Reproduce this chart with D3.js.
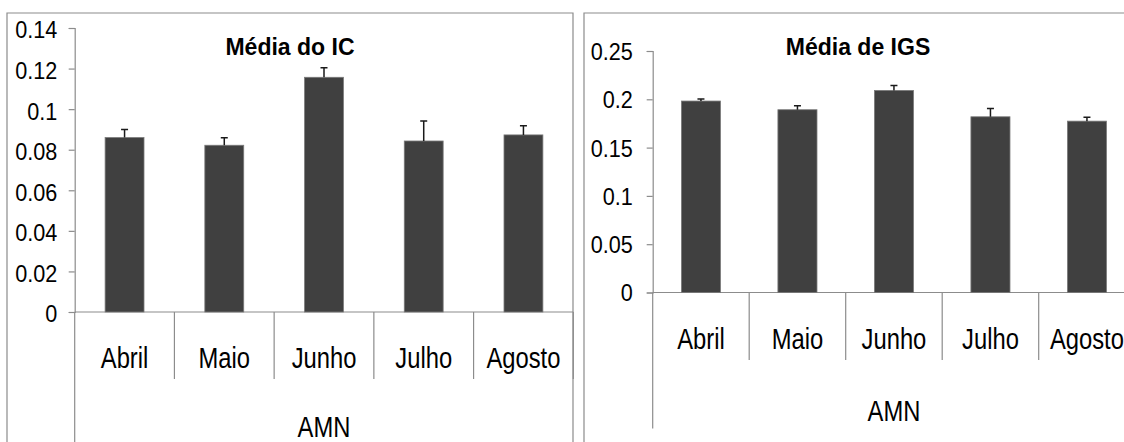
<!DOCTYPE html>
<html>
<head>
<meta charset="utf-8">
<script src="https://cdn.jsdelivr.net/npm/d3@7"></script>
<style>
  html, body { margin: 0; padding: 0; background: #fff; }
  svg { display: block; }
  .tick text { font-family: "Liberation Sans", Arial, sans-serif; font-size: 24px; fill: #000; }
  .cat { font-family: "Liberation Sans", Arial, sans-serif; font-size: 29px; fill: #000; }
  .title { font-family: "Liberation Sans", Arial, sans-serif; font-size: 24.5px; font-weight: bold; fill: #000; }
</style>
</head>
<body>
<svg id="chart" width="1124" height="442"></svg>
<script>
const categories = ["Abril", "Maio", "Junho", "Julho", "Agosto"];
const groupLabel = "AMN";

const icTitle = "Média do IC";
const icMeans = [0.0860, 0.0822, 0.1157, 0.0843, 0.0873];
const icErrors = [0.0040, 0.0037, 0.0047, 0.0099, 0.0045];
const icTicks = [0, 0.02, 0.04, 0.06, 0.08, 0.1, 0.12, 0.14];

const igsTitle = "Média de IGS";
const igsMeans = [0.1982, 0.1892, 0.2092, 0.1819, 0.1774];
const igsErrors = [0.0022, 0.0040, 0.0052, 0.0086, 0.0041];
const igsTicks = [0, 0.05, 0.1, 0.15, 0.2, 0.25];

const svg = d3.select("#chart");
const gridColor = "#8c8c8c";
const catScaleX = 0.82;
const tickScaleX = 0.9;
const titleScaleX = 0.94;

function panel(cfg) {
  const g = svg.append("g");
  g.append("path")
    .attr("d", cfg.borderPath)
    .attr("fill", "none").attr("stroke", gridColor).attr("stroke-width", 1.2);

  const x = d3.scaleBand().domain(categories).range([cfg.x0, cfg.x1]).padding(0);
  const y = d3.scaleLinear().domain([0, d3.max(cfg.ticks)]).range([cfg.y0, cfg.yTop]);

  const yAxis = d3.axisLeft(y).tickValues(cfg.ticks).tickSize(6)
    .tickFormat(d => String(+d.toFixed(4)));
  const ya = g.append("g").attr("transform", `translate(${cfg.x0},0)`).call(yAxis);
  ya.select(".domain").attr("stroke", gridColor).attr("stroke-width", 1.2);
  ya.selectAll(".tick line").attr("stroke", gridColor).attr("stroke-width", 1.2);
  ya.selectAll(".tick text")
    .attr("x", 0).attr("dy", null).attr("y", 0)
    .attr("dominant-baseline", "central")
    .attr("transform", `translate(${-cfg.labelGap},${cfg.labelShift}) scale(${tickScaleX},1)`);

  g.append("line")
    .attr("x1", cfg.x0).attr("x2", cfg.x0)
    .attr("y1", cfg.y0).attr("y2", cfg.y0 + cfg.outerDepth)
    .attr("stroke", gridColor).attr("stroke-width", 1.2);

  g.append("line")
    .attr("x1", cfg.x0).attr("x2", cfg.x1)
    .attr("y1", y(0)).attr("y2", y(0))
    .attr("stroke", gridColor).attr("stroke-width", 1.2);

  g.selectAll(".sep").data(categories.slice(1).concat(["__end"]))
    .enter().append("line")
    .attr("x1", d => d === "__end" ? cfg.x1 : x(d))
    .attr("x2", d => d === "__end" ? cfg.x1 : x(d))
    .attr("y1", y(0)).attr("y2", y(0) + cfg.sepDepth)
    .attr("stroke", gridColor).attr("stroke-width", 1.2);

  const bw = x.bandwidth() * cfg.barFrac;
  const data = categories.map((c, i) => ({ c, v: cfg.means[i], e: cfg.errors[i] }));
  g.selectAll(".bar").data(data).enter().append("rect")
    .attr("x", d => x(d.c) + (x.bandwidth() - bw) / 2)
    .attr("y", d => y(d.v))
    .attr("width", bw)
    .attr("height", d => y(0) - y(d.v))
    .attr("fill", "#404040")
    .attr("stroke", "#7a7a7a").attr("stroke-width", 0.8);

  const cap = 3.5;
  g.selectAll(".err").data(data).enter().append("path")
    .attr("d", d => {
      const cx = x(d.c) + x.bandwidth() / 2;
      return `M${cx},${y(d.v)}V${y(d.v + d.e)}M${cx - cap},${y(d.v + d.e)}H${cx + cap}`;
    })
    .attr("fill", "none").attr("stroke", "#1a1a1a").attr("stroke-width", 1.5);

  g.selectAll(".catlbl").data(categories).enter().append("text")
    .attr("class", "cat")
    .attr("text-anchor", "middle")
    .attr("transform", d => `translate(${x(d) + x.bandwidth() / 2},${y(0) + cfg.catBase}) scale(${catScaleX},1)`)
    .text(d => d);

  g.append("text").attr("class", "cat")
    .attr("text-anchor", "middle")
    .attr("transform", `translate(${(cfg.x0 + cfg.x1) / 2},${y(0) + cfg.groupBase}) scale(${catScaleX},1)`)
    .text(groupLabel);

  g.append("text").attr("class", "title")
    .attr("text-anchor", "middle")
    .attr("transform", `translate(${cfg.titleX},55) scale(${titleScaleX},1)`)
    .text(cfg.title);
}

panel({
  borderPath: "M7,460V13H573V460",
  x0: 74.7, x1: 573.3, y0: 312, yTop: 28,
  ticks: icTicks, means: icMeans, errors: icErrors,
  labelGap: 17.5, labelShift: 1.5,
  outerDepth: 150, sepDepth: 67,
  barFrac: 0.39, catBase: 55.7, groupBase: 125,
  title: icTitle, titleX: 290
});

panel({
  borderPath: "M584,460V13H1130",
  x0: 652.7, x1: 1135.2, y0: 292.5, yTop: 51,
  ticks: igsTicks, means: igsMeans, errors: igsErrors,
  labelGap: 20, labelShift: 0,
  outerDepth: 136, sepDepth: 67.5,
  barFrac: 0.405, catBase: 56.5, groupBase: 128.5,
  title: igsTitle, titleX: 858
});
</script>
</body>
</html>
